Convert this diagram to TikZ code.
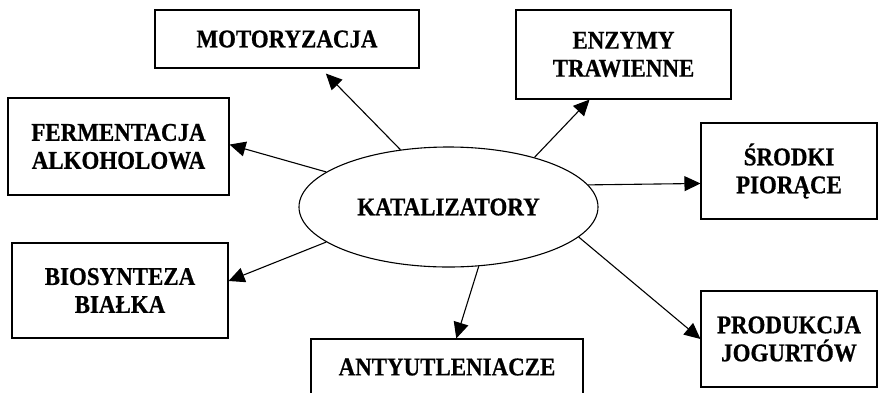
\documentclass[tikz,border=0pt]{standalone}
\usepackage{fontspec}
\setmainfont{Liberation Serif}
\newfontfamily\lblfont[FakeStretch=0.9,FakeBold=0.6]{Liberation Serif Bold}
\usetikzlibrary{arrows.meta,shapes.geometric}

\begin{document}
\begin{tikzpicture}[x=1pt,y=-1pt,
    box/.style={draw,line width=1.1pt,inner sep=0pt,align=center,
        font=\lblfont\fontsize{25.5}{28}\selectfont},
    arr/.style={-{Triangle[length=16pt,width=15pt]},line width=1.1pt}]
    \useasboundingbox (0,0) rectangle (878,392);
    \clip (0,0) rectangle (878,392);
    \node[box,ellipse,minimum width=299pt,minimum height=120pt] (kat) at (448.5,207) {KATALIZATORY};
    \node[box,minimum width=264pt,minimum height=58pt] (mot) at (287,39) {MOTORYZACJA};
    \node[box,minimum width=221pt,minimum height=97pt] (fer) at (118.5,146.5) {FERMENTACJA\\ALKOHOLOWA};
    \node[box,minimum width=215pt,minimum height=89pt] (enz) at (623.5,54.5) {ENZYMY\\TRAWIENNE};
    \node[box,minimum width=176pt,minimum height=96pt] (sro) at (789,171) {ŚRODKI\\PIORĄCE};
    \node[box,minimum width=216pt,minimum height=95pt] (bio) at (120,290.5) {BIOSYNTEZA\\BIAŁKA};
    \node[box,minimum width=272pt,minimum height=56pt] (ant) at (447,367) {ANTYUTLENIACZE};
    \node[box,minimum width=176pt,minimum height=96pt] (pro) at (789,339) {PRODUKCJA\\JOGURTÓW};
    \draw[arr,shorten >=7pt] (kat.130) -- (mot.-41);
    \draw[arr] (kat.164) -- (fer.1);
    \draw[arr] (kat.30) -- (enz.-127);
    \draw[arr] (kat.9) -- (sro.188);
    \draw[arr] (kat.196) -- (bio.5.6);
    \draw[arr] (kat.-63) -- (ant.72);
    \draw[arr] (kat.-13.5) -- (pro.west);
\end{tikzpicture}
\end{document}
